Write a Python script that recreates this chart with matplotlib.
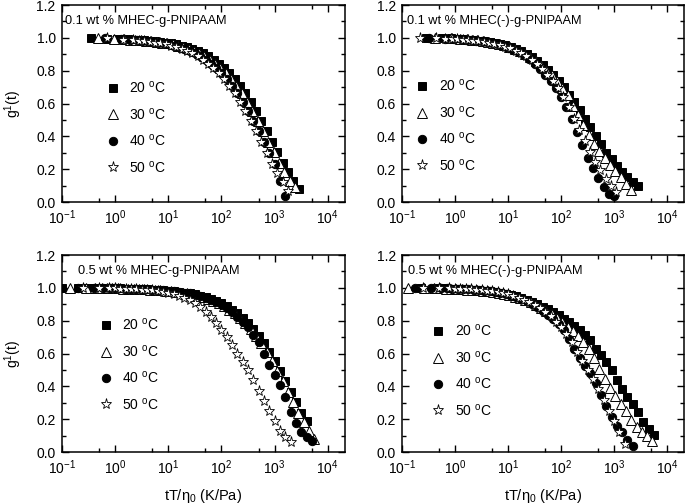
import matplotlib
matplotlib.use("Agg")
import matplotlib.pyplot as plt
from matplotlib.ticker import LogLocator, MultipleLocator, NullFormatter, FormatStrFormatter

plt.rcParams['font.family'] = ['Liberation Sans', 'DejaVu Sans']
plt.rcParams['mathtext.default'] = 'regular'

# correlator lag times (shared by all runs)
lag = [1, 2, 3, 4, 5, 6.3, 7.9, 10, 12.6, 15.8, 20, 25.1, 31.6, 39.8, 50.1, 63.1, 79.4,
       100, 126, 158, 200, 251, 316, 398, 501, 631, 794, 1000, 1259, 1585, 1995, 2512,
       3162, 3981, 5012, 6310, 7943, 10000, 12589, 15849, 19953, 25119, 31623, 39811]

temps = [20, 30, 40, 50]
titles = ["0.1 wt % MHEC-g-PNIPAAM", "0.1 wt % MHEC(-)-g-PNIPAAM",
          "0.5 wt % MHEC-g-PNIPAAM", "0.5 wt % MHEC(-)-g-PNIPAAM"]

# T/eta0 for each temperature, per panel
shift_tl = [0.355, 0.479, 0.631, 0.708]
shift_tr = [0.282, 0.417, 0.316, 0.219]
shift_bl = [0.100, 0.141, 0.200, 0.251]
shift_br = [0.224, 0.132, 0.178, 0.251]

# g1(t) values, panel top-left (0.1 wt % MHEC-g-PNIPAAM)
g_tl_20 = [1.000, 0.996, 0.995, 0.993, 0.992, 0.990, 0.988, 0.986, 0.983, 0.980, 0.976, 0.971,
           0.966, 0.960, 0.952, 0.943, 0.932, 0.920, 0.905, 0.887, 0.867, 0.844, 0.816, 0.784,
           0.748, 0.707, 0.662, 0.611, 0.555, 0.496, 0.433, 0.368, 0.303, 0.240, 0.183, 0.131, 0.082]
g_tl_30 = [1.000, 0.994, 0.992, 0.990, 0.988, 0.986, 0.983, 0.980, 0.976, 0.971, 0.966, 0.960,
           0.952, 0.943, 0.932, 0.920, 0.905, 0.887, 0.867, 0.844, 0.816, 0.784, 0.748, 0.707,
           0.662, 0.611, 0.555, 0.496, 0.433, 0.368, 0.303, 0.240, 0.183, 0.131, 0.095]
g_tl_40 = [1.000, 0.992, 0.989, 0.986, 0.983, 0.980, 0.976, 0.971, 0.966, 0.960, 0.952, 0.943,
           0.932, 0.920, 0.905, 0.887, 0.867, 0.844, 0.816, 0.784, 0.748, 0.707, 0.662, 0.611,
           0.555, 0.496, 0.433, 0.368, 0.300, 0.232, 0.130, 0.040]
g_tl_50 = [1.000, 0.990, 0.987, 0.983, 0.980, 0.976, 0.971, 0.966, 0.960, 0.952, 0.943, 0.932,
           0.920, 0.905, 0.887, 0.867, 0.844, 0.816, 0.784, 0.748, 0.707, 0.662, 0.611, 0.555,
           0.496, 0.433, 0.368, 0.300, 0.235, 0.175, 0.120, 0.070]

# top-right (0.1 wt % MHEC(-)-g-PNIPAAM)
g_tr_20 = [1.000, 0.998, 0.997, 0.995, 0.993, 0.990, 0.987, 0.984, 0.980, 0.975, 0.970, 0.963,
           0.955, 0.945, 0.933, 0.918, 0.902, 0.882, 0.860, 0.833, 0.805, 0.773, 0.740, 0.700,
           0.655, 0.610, 0.560, 0.505, 0.455, 0.405, 0.355, 0.300, 0.260, 0.220, 0.185, 0.152,
           0.123, 0.098]
g_tr_30 = [1.000, 0.997, 0.995, 0.993, 0.990, 0.986, 0.982, 0.977, 0.971, 0.964, 0.956, 0.946,
           0.934, 0.920, 0.903, 0.883, 0.860, 0.834, 0.805, 0.772, 0.736, 0.695, 0.650, 0.585,
           0.528, 0.470, 0.410, 0.355, 0.310, 0.268, 0.228, 0.190, 0.152, 0.112, 0.075]
g_tr_40 = [1.000, 0.996, 0.994, 0.992, 0.990, 0.987, 0.984, 0.980, 0.975, 0.969, 0.961, 0.952,
           0.941, 0.928, 0.912, 0.893, 0.870, 0.843, 0.812, 0.777, 0.738, 0.692, 0.640, 0.580,
           0.505, 0.425, 0.345, 0.270, 0.205, 0.145, 0.090, 0.052, 0.038]
g_tr_50 = [1.000, 0.998, 0.996, 0.994, 0.992, 0.990, 0.987, 0.984, 0.980, 0.976, 0.971, 0.964,
           0.956, 0.947, 0.936, 0.922, 0.906, 0.887, 0.865, 0.840, 0.810, 0.776, 0.737, 0.692,
           0.640, 0.580, 0.505, 0.440, 0.375, 0.305, 0.245, 0.195, 0.140, 0.098, 0.062]

# bottom-left (0.5 wt % MHEC-g-PNIPAAM)
g_bl_20 = [1.000, 1.000, 0.999, 0.999, 0.998, 0.998, 0.998, 0.997, 0.997, 0.996, 0.995, 0.994,
           0.993, 0.992, 0.990, 0.988, 0.986, 0.983, 0.980, 0.976, 0.971, 0.966, 0.960, 0.952,
           0.943, 0.932, 0.920, 0.905, 0.887, 0.867, 0.844, 0.816, 0.784, 0.748, 0.707, 0.662,
           0.611, 0.555, 0.496, 0.433, 0.368, 0.303, 0.240, 0.190]
g_bl_30 = [1.000, 0.999, 0.998, 0.998, 0.998, 0.997, 0.997, 0.996, 0.995, 0.994, 0.993, 0.992,
           0.990, 0.988, 0.986, 0.983, 0.980, 0.976, 0.971, 0.966, 0.960, 0.952, 0.943, 0.932,
           0.920, 0.905, 0.887, 0.867, 0.844, 0.816, 0.784, 0.748, 0.707, 0.662, 0.611, 0.555,
           0.496, 0.433, 0.368, 0.303, 0.240, 0.183, 0.131, 0.078]
g_bl_40 = [1.000, 0.999, 0.998, 0.998, 0.997, 0.997, 0.996, 0.995, 0.994, 0.993, 0.992, 0.990,
           0.988, 0.986, 0.983, 0.980, 0.976, 0.971, 0.966, 0.959, 0.951, 0.941, 0.929, 0.914,
           0.897, 0.877, 0.853, 0.825, 0.795, 0.760, 0.716, 0.668, 0.600, 0.530, 0.470, 0.410,
           0.335, 0.245, 0.175, 0.125, 0.090, 0.070]
g_bl_50 = [1.000, 0.999, 0.998, 0.997, 0.996, 0.995, 0.994, 0.992, 0.990, 0.987, 0.984, 0.980,
           0.975, 0.969, 0.961, 0.951, 0.939, 0.924, 0.905, 0.882, 0.855, 0.823, 0.787, 0.745,
           0.700, 0.652, 0.600, 0.550, 0.500, 0.440, 0.375, 0.312, 0.250, 0.190, 0.130, 0.092,
           0.062]

# bottom-right (0.5 wt % MHEC(-)-g-PNIPAAM)
g_br_20 = [1.000, 0.998, 0.997, 0.995, 0.994, 0.992, 0.990, 0.988, 0.985, 0.982, 0.978, 0.974,
           0.969, 0.963, 0.956, 0.948, 0.939, 0.928, 0.916, 0.902, 0.886, 0.869, 0.851, 0.832,
           0.812, 0.792, 0.770, 0.745, 0.715, 0.680, 0.630, 0.590, 0.550, 0.500, 0.440, 0.385,
           0.335, 0.290, 0.245, 0.185, 0.140, 0.105]
g_br_30 = [1.000, 0.999, 0.998, 0.997, 0.996, 0.995, 0.994, 0.992, 0.990, 0.988, 0.985, 0.982,
           0.978, 0.973, 0.968, 0.962, 0.955, 0.946, 0.936, 0.924, 0.911, 0.896, 0.879, 0.860,
           0.839, 0.816, 0.790, 0.760, 0.735, 0.705, 0.670, 0.630, 0.575, 0.505, 0.445, 0.390,
           0.340, 0.290, 0.250, 0.195, 0.150, 0.122, 0.098, 0.070]
g_br_40 = [1.000, 0.999, 0.998, 0.997, 0.996, 0.995, 0.993, 0.991, 0.989, 0.986, 0.983, 0.979,
           0.974, 0.968, 0.961, 0.953, 0.943, 0.931, 0.917, 0.901, 0.882, 0.861, 0.837, 0.810,
           0.780, 0.745, 0.690, 0.625, 0.575, 0.525, 0.480, 0.420, 0.345, 0.280, 0.215, 0.160,
           0.120, 0.075, 0.035]
g_br_50 = [1.000, 0.999, 0.998, 0.996, 0.995, 0.993, 0.991, 0.989, 0.986, 0.982, 0.978, 0.973,
           0.967, 0.960, 0.951, 0.941, 0.929, 0.914, 0.897, 0.877, 0.854, 0.827, 0.795, 0.760,
           0.718, 0.670, 0.610, 0.555, 0.500, 0.445, 0.385, 0.315, 0.250, 0.190, 0.125, 0.050]

panels = [
    (shift_tl, [g_tl_20, g_tl_30, g_tl_40, g_tl_50]),
    (shift_tr, [g_tr_20, g_tr_30, g_tr_40, g_tr_50]),
    (shift_bl, [g_bl_20, g_bl_30, g_bl_40, g_bl_50]),
    (shift_br, [g_br_20, g_br_30, g_br_40, g_br_50]),
]

positions = [[0.0905, 0.599, 0.413, 0.391], [0.587, 0.599, 0.412, 0.391],
             [0.0905, 0.103, 0.413, 0.391], [0.587, 0.103, 0.412, 0.391]]
legend_anchor = [(0.155, 0.62), (0.046, 0.63), (0.13, 0.685), (0.103, 0.655)]
title_x = [0.012, 0.018, 0.057, 0.02]

styles = [
    dict(marker='s', mfc='black', mec='black', ms=5.2, mew=0.7),
    dict(marker='^', mfc='white', mec='black', ms=6.5, mew=0.7),
    dict(marker='o', mfc='black', mec='black', ms=6, mew=0.7),
    dict(marker='*', mfc='white', mec='black', ms=8, mew=0.6),
]

fig = plt.figure(figsize=(6.85, 5.04), dpi=100)

for k, (shift, series) in enumerate(panels):
    ax = fig.add_axes(positions[k])
    for t, s, g, st in zip(temps, shift, series, styles):
        x = [v * s for v in lag[:len(g)]]
        ax.plot(x, g, ls='none', label=f"{t} $^{{o}}$C", **st)

    ax.set_xscale('log')
    ax.set_xlim(0.1, 2.1e4)
    ax.set_ylim(0, 1.2)
    ax.xaxis.set_major_locator(LogLocator(base=10, numticks=10))
    ax.xaxis.set_minor_locator(LogLocator(base=10, subs=[5.0], numticks=10))
    ax.xaxis.set_minor_formatter(NullFormatter())
    ax.yaxis.set_major_locator(MultipleLocator(0.2))
    ax.yaxis.set_minor_locator(MultipleLocator(0.1))
    ax.yaxis.set_major_formatter(FormatStrFormatter('%.1f'))
    ax.tick_params(which='both', direction='in', top=True, right=True, labelsize=10, pad=4.5)
    ax.tick_params(which='major', length=5, width=1)
    ax.tick_params(which='minor', length=3, width=1)
    for sp in ax.spines.values():
        sp.set_linewidth(1.1)

    ax.text(title_x[k], 0.917, titles[k], transform=ax.transAxes, fontsize=9.2, va='center')
    ax.legend(loc='upper left', bbox_to_anchor=legend_anchor[k], frameon=False,
              handlelength=1.0, handletextpad=0.7, labelspacing=0.75, borderpad=0,
              borderaxespad=0, fontsize=10, numpoints=1)

    if k % 2 == 0:
        ax.set_ylabel("g$^1$(t)", fontsize=10, labelpad=9)
    if k >= 2:
        ax.set_xlabel(r"tT/$\eta_0$ (K/Pa)", fontsize=10.5, labelpad=7)

fig.savefig("out.png", dpi=100)
